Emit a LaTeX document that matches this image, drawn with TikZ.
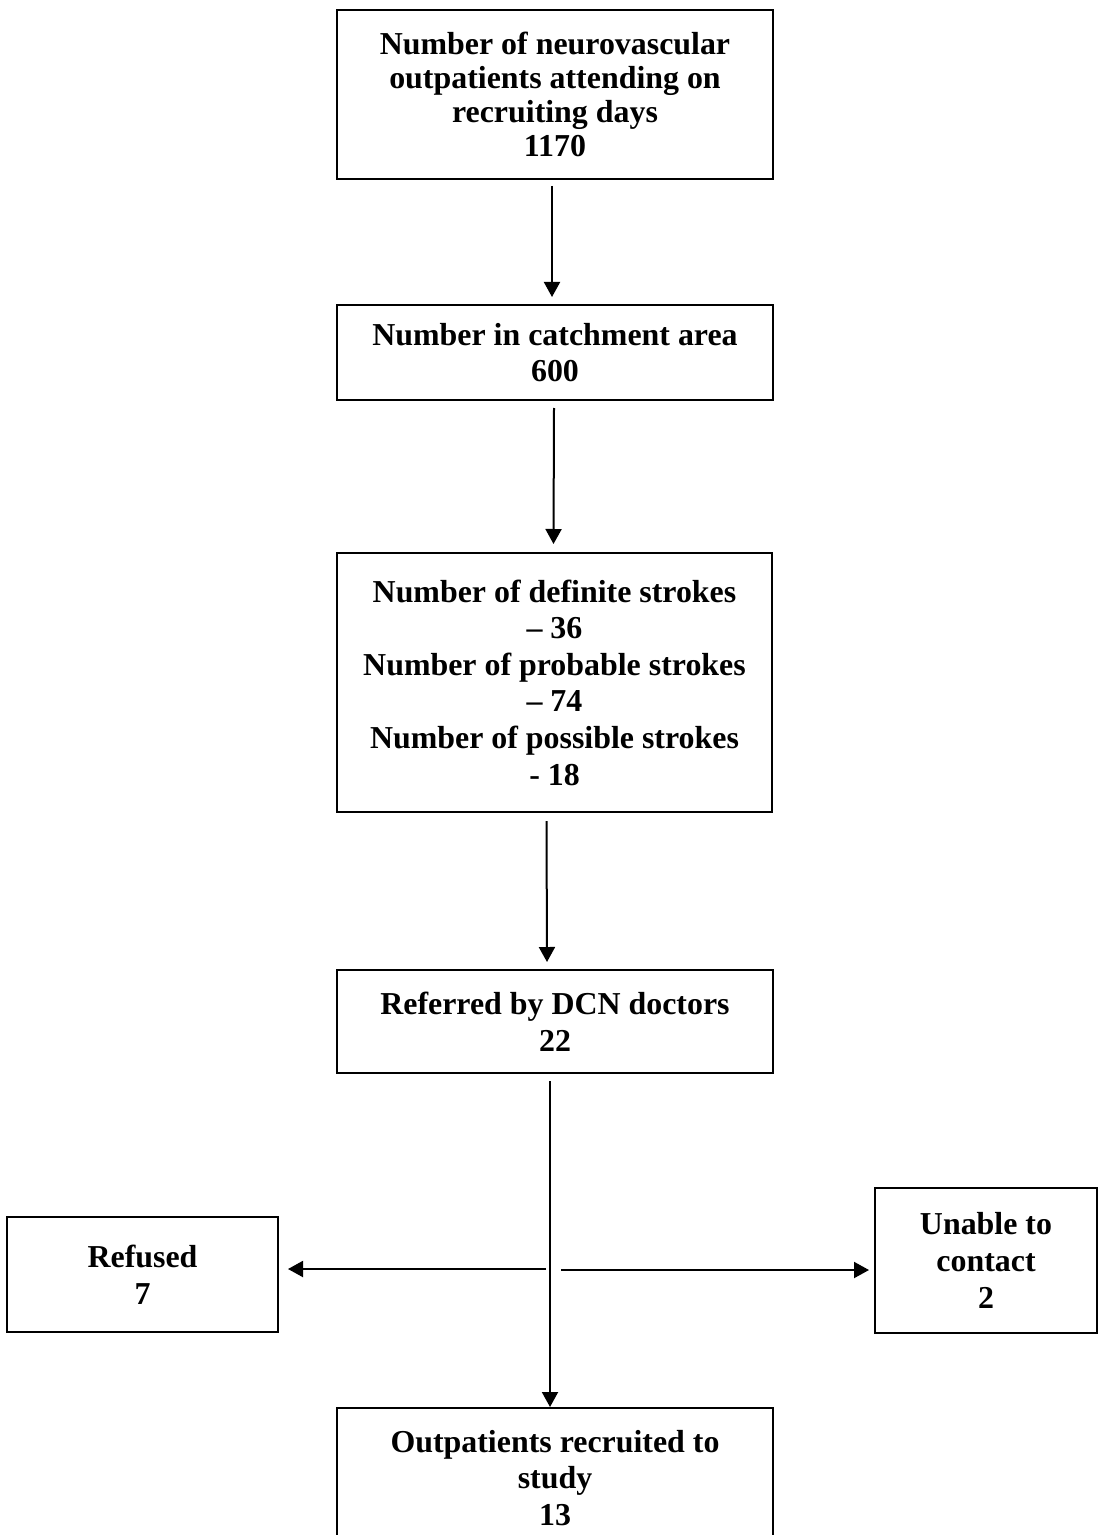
\documentclass[tikz,border=0pt]{standalone}
\usepackage{fontspec}
\setmainfont{Liberation Serif}
\usetikzlibrary{arrows.meta,calc}
\begin{document}
\begin{tikzpicture}[x=0.5pt,y=-0.5pt,
  box/.style={draw, line width=1pt, rectangle, align=center, inner sep=0pt,
    font=\bfseries\fontsize{15.95}{18.3}\selectfont},
  arr/.style={line width=1pt, -{Triangle[length=7.5pt,width=8pt]}},
  plainline/.style={line width=1pt}]
\useasboundingbox (0,0) rectangle (1099,1535);
\fill[white] (0,0) rectangle (1099,1535);

% main column of boxes
\node[box, minimum width=218pt, minimum height=84.5pt,
  font=\bfseries\fontsize{15.95}{17}\selectfont] (b1) at (555,94.5)
  {Number of neurovascular\\outpatients attending on\\recruiting days\\1170};
\node[box, minimum width=218pt, minimum height=47.5pt] (b2) at (555,352.5)
  {Number in catchment area\\600};
\node[box, minimum width=217.5pt, minimum height=129.5pt] (b3) at (554.5,682.5)
  {Number of definite strokes\\– 36\\Number of probable strokes\\– 74\\Number of possible strokes\\- 18};
\node[box, minimum width=218pt, minimum height=51.5pt] (b4) at (555,1021.5)
  {Referred by DCN doctors\\22};
\node[box, minimum width=218pt, minimum height=70pt] (b5) at (555,1478)
  {Outpatients recruited to\\study\\13};

% side boxes
\node[box, minimum width=135.5pt, minimum height=57.5pt] (refused) at (142.5,1274.5)
  {Refused\\7};
\node[box, minimum width=111pt, minimum height=72.5pt] (unable) at (986,1260.5)
  {Unable to\\contact\\2};

% connectors
\draw[arr] ($(b1.south)+(-3,6)$) -- ($(b2.north)+(-3,-7)$);
\draw[arr] ($(b2.south)+(-1,7)$) -- ($(b3.north)+(-1,-8)$);
\draw[arr] ($(b3.south)+(-8,8)$) -- ($(b4.north)+(-8,-7)$);
\draw[arr] ($(b4.south)+(-5,7)$) -- ($(b5.north)+(-5,0)$);

\coordinate (split) at ($(b4.south)+(-5,195)$);
\draw[arr] ($(split)+(-4,0)$) -- ($(split -| refused.east)+(9,0)$);
\draw[arr] ($(split)+(11,1)$) -- ($(split -| unable.west)+(-5,1)$);
\end{tikzpicture}
\end{document}
